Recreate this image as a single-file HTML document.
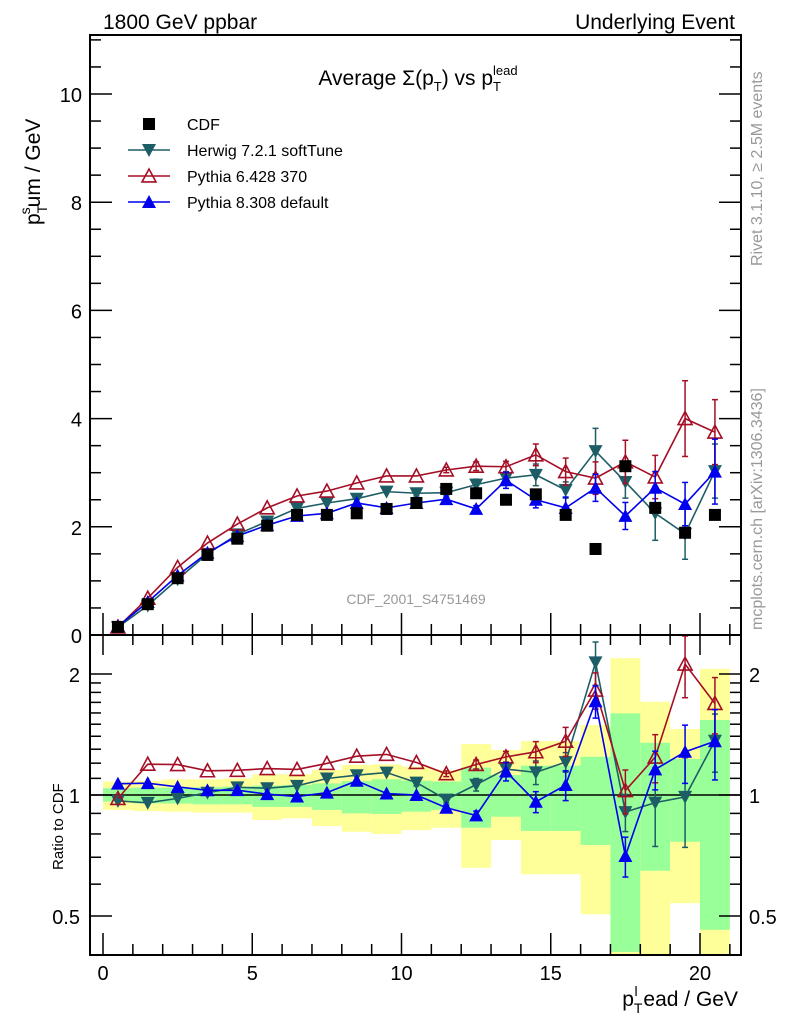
<!DOCTYPE html>
<html><head><meta charset="utf-8"><style>
body{margin:0;background:#fff;}
svg{display:block;font-family:"Liberation Sans",sans-serif;}
</style></head><body>
<svg id="c" width="786" height="1024" viewBox="0 0 786 1024" xmlns="http://www.w3.org/2000/svg">
<text x="103" y="29" font-size="21">1800 GeV ppbar</text>
<text x="735" y="29" font-size="21" text-anchor="end">Underlying Event</text>
<text x="418" y="85" font-size="21" text-anchor="middle">Average Σ(p<tspan font-size="13" dy="6">T</tspan><tspan dy="-6">) vs p</tspan><tspan font-size="13" dy="6">T</tspan><tspan font-size="13" dx="-8" dy="-16">lead</tspan></text>
<text transform="translate(40,225) rotate(-90)" font-size="21">p<tspan font-size="14" dy="7">T</tspan><tspan font-size="14" dx="-8" dy="-17">s</tspan><tspan dy="10">um / GeV</tspan></text>
<text transform="translate(63,870) rotate(-90)" font-size="15">Ratio to CDF</text>
<text transform="translate(762,266) rotate(-90)" font-size="16" fill="#999">Rivet 3.1.10, ≥ 2.5M events</text>
<text transform="translate(762,630) rotate(-90)" font-size="16" fill="#999">mcplots.cern.ch [arXiv:1306.3436]</text>
<text x="416" y="604" font-size="14" fill="#999" text-anchor="middle">CDF_2001_S4751469</text>
<text x="738" y="1006" font-size="21" text-anchor="end">p<tspan font-size="14" dy="7">T</tspan><tspan font-size="14" dx="-8" dy="-17">l</tspan><tspan dy="10"> ead / GeV</tspan></text>
<g id="bands"></g><g id="grid"></g><g id="series"></g><g id="axes"></g><g id="legend"></g>
</svg>
<script>
const xCenters=[0.5,1.5,2.5,3.5,4.5,5.5,6.5,7.5,8.5,9.5,10.5,11.5,12.5,13.5,14.5,15.5,16.5,17.5,18.5,19.5,20.5];
const cdfVals=[0.15,0.57,1.05,1.48,1.78,2.02,2.22,2.22,2.25,2.33,2.44,2.70,2.62,2.50,2.60,2.22,1.59,3.12,2.35,1.89,2.22];
const herwigVals=[0.145,0.545,1.03,1.50,1.86,2.10,2.34,2.44,2.52,2.65,2.62,2.63,2.78,2.90,2.96,2.68,3.40,2.83,2.25,1.87,3.03];
const herwigErr=[0,0,0,0,0,0,0,0,0,0,0.05,0.05,0.1,0.12,0.2,0.15,0.42,0.3,0.5,0.47,0.5];
const py6Vals=[0.147,0.68,1.25,1.70,2.05,2.35,2.57,2.66,2.81,2.94,2.94,3.05,3.12,3.11,3.33,3.02,2.90,3.20,2.92,4.00,3.75];
const py6Err=[0,0,0,0,0,0,0,0,0,0,0,0.05,0.08,0.1,0.2,0.25,0.3,0.4,0.4,0.7,0.6];
const py8Vals=[0.16,0.61,1.10,1.52,1.83,2.03,2.20,2.25,2.44,2.35,2.44,2.51,2.33,2.86,2.50,2.35,2.72,2.20,2.72,2.42,3.02];
const py8Err=[0,0,0,0,0,0,0,0,0,0,0,0.04,0.06,0.15,0.15,0.2,0.25,0.25,0.3,0.4,0.6];
const yellowHi=[1.08,1.085,1.094,1.094,1.10,1.126,1.126,1.154,1.188,1.192,1.176,1.154,1.339,1.294,1.362,1.362,1.493,2.19,1.706,1.459,2.06];
const yellowLo=[0.918,0.912,0.909,0.904,0.904,0.867,0.875,0.837,0.81,0.80,0.818,0.829,0.659,0.773,0.635,0.635,0.505,0.3,0.3,0.538,0.3];
const greenHi=[1.04,1.043,1.043,1.045,1.049,1.055,1.059,1.069,1.083,1.094,1.086,1.08,1.17,1.121,1.183,1.183,1.245,1.596,1.349,1.229,1.537];
const greenLo=[0.963,0.953,0.952,0.948,0.948,0.934,0.934,0.918,0.90,0.897,0.909,0.918,0.829,0.883,0.814,0.814,0.751,0.407,0.648,0.765,0.462];
const mainTicks=[0,2,4,6,8,10];
const xTicks=[0,5,10,15,20];
const ratioTicks=[0.5,1,2];

const NS="http://www.w3.org/2000/svg";
const L=90,R=741,T=35,MB=635,RB=955;
const xs=v=>103+v*29.85;
const ys=v=>635-v*54.1;
const yr=r=>{const c=Math.max(0.38,Math.min(2.55,r));return 795-Math.log2(c)*121;};
function mk(tag,attrs,parent){const e=document.createElementNS(NS,tag);for(const k in attrs)e.setAttribute(k,attrs[k]);parent.appendChild(e);return e;}
const bands=document.getElementById('bands'),grid=document.getElementById('grid'),series=document.getElementById('series'),axes=document.getElementById('axes'),legend=document.getElementById('legend');

xCenters.forEach((x,i)=>{
  const x0=Math.max(L+1,xs(x-0.5)),x1=xs(x+0.5);
  let r=mk('rect',{x:x0,y:yr(yellowHi[i]),width:x1-x0,height:Math.min(RB,yr(yellowLo[i]))-yr(yellowHi[i]),fill:'#ffff99'},bands);
  
  
  let g=mk('rect',{x:x0,y:yr(greenHi[i]),width:x1-x0,height:Math.min(RB,yr(greenLo[i]))-yr(greenHi[i]),fill:'#99ff99'},bands);
  
  
});
mk('line',{x1:L,x2:R,y1:yr(1),y2:yr(1),stroke:'#000','stroke-width':1.5},grid);

let f1=mk('rect',{x:L,y:T,width:R-L,height:MB-T,fill:'none',stroke:'#000','stroke-width':2},axes);


let f2=mk('rect',{x:L,y:MB,width:R-L,height:RB-MB,fill:'none',stroke:'#000','stroke-width':2},axes);


for(let v=0;v<=11;v+=0.5){const y=ys(v);if(y<T)continue;const l=(v%2===0)?22:11;
  mk('line',{x1:L,x2:L+l,y1:y,y2:y,stroke:'#000','stroke-width':1.5},axes);
  mk('line',{x1:R,x2:R-l,y1:y,y2:y,stroke:'#000','stroke-width':1.5},axes);}
mainTicks.forEach(v=>{let t=mk('text',{x:L-8,y:ys(v)+8,'font-size':20,'text-anchor':'end'},axes);t.textContent=v;
  
  });
for(let v=0;v<=21;v++){const x=xs(v);const l=(v%5===0)?22:11;
  [MB,RB].forEach(b=>{mk('line',{x1:x,x2:x,y1:b,y2:b-l,stroke:'#000','stroke-width':1.5},axes);});
  mk('line',{x1:x,x2:x,y1:MB,y2:MB+(v%5===0?20:10),stroke:'#000','stroke-width':1.5},axes);}
xTicks.forEach(v=>{let t=mk('text',{x:xs(v),y:980,'font-size':20,'text-anchor':'middle'},axes);t.textContent=v;
  
  });
[0.4,0.5,0.6,0.7,0.8,0.9,1,1.1,1.2,1.3,1.4,1.5,1.6,1.7,1.8,1.9,2].forEach(v=>{const y=yr(v);const l=(v===0.5||v===1||v===2)?22:11;
  mk('line',{x1:L,x2:L+l,y1:y,y2:y,stroke:'#000','stroke-width':1.5},axes);
  mk('line',{x1:R,x2:R-l,y1:y,y2:y,stroke:'#000','stroke-width':1.5},axes);});
ratioTicks.forEach(v=>{let t=mk('text',{x:L-10,y:yr(v)+8,'font-size':20,'text-anchor':'end'},axes);t.textContent=v;
  
  
  let t2=mk('text',{x:R+8,y:yr(v)+8,'font-size':20},axes);t2.textContent=v;
  
  });

function marker(kind,color,x,y,parent,s){
  if(kind==='square')return mk('rect',{x:x-s,y:y-s,width:2*s,height:2*s,fill:color},parent);
  if(kind==='down')return mk('polygon',{points:`${x-s},${y-s*0.85} ${x+s},${y-s*0.85} ${x},${y+s}`,fill:color},parent);
  if(kind==='up')return mk('polygon',{points:`${x-s},${y+s*0.85} ${x+s},${y+s*0.85} ${x},${y-s}`,fill:color},parent);
  if(kind==='upopen')return mk('polygon',{points:`${x-s},${y+s*0.85} ${x+s},${y+s*0.85} ${x},${y-s}`,fill:'none',stroke:color,'stroke-width':1.6},parent);
}
function drawSeries(name,vals,errs,color,kind){
  const g=mk('g',{},series);
  
  
  const pm=xCenters.map((x,i)=>xs(x)+','+ys(vals[i])).join(' ');
  mk('polyline',{points:pm,fill:'none',stroke:color,'stroke-width':1.6},g);
  const pr=xCenters.map((x,i)=>xs(x)+','+yr(vals[i]/cdfVals[i])).join(' ');
  mk('polyline',{points:pr,fill:'none',stroke:color,'stroke-width':1.6},g);
  xCenters.forEach((x,i)=>{
    const e=errs[i];
    if(e>0){
      const X=xs(x);
      [[ys(vals[i]+e),ys(vals[i]-e)],[yr((vals[i]+e)/cdfVals[i]),yr((vals[i]-e)/cdfVals[i])]].forEach(([a,b])=>{
        mk('line',{x1:X,x2:X,y1:a,y2:b,stroke:color,'stroke-width':1.5},g);
        mk('line',{x1:X-3,x2:X+3,y1:a,y2:a,stroke:color,'stroke-width':1.5},g);
        mk('line',{x1:X-3,x2:X+3,y1:b,y2:b,stroke:color,'stroke-width':1.5},g);});
    }
    let m=marker(kind,color,xs(x),ys(vals[i]),g,7);
    
    
    let m2=marker(kind,color,xs(x),yr(vals[i]/cdfVals[i]),g,7);
    
    
  });
}
drawSeries('herwig',herwigVals,herwigErr,'#1d5e66','down');
drawSeries('pythia6',py6Vals,py6Err,'#a50f26','upopen');
drawSeries('pythia8',py8Vals,py8Err,'#0000ee','up');
xCenters.forEach((x,i)=>{let m=marker('square','#000',xs(x),ys(cdfVals[i]),series,6);
  
  });

const legNames=['CDF','Herwig 7.2.1 softTune','Pythia 6.428 370','Pythia 8.308 default'];
const legKinds=[['square','#000'],['down','#1d5e66'],['upopen','#a50f26'],['up','#0000ee']];
legNames.forEach((n,i)=>{
  const y=124+i*26;
  const g=mk('g',{},legend);
  
  
  if(i>0)mk('line',{x1:128,x2:170,y1:y,y2:y,stroke:legKinds[i][1],'stroke-width':1.6},g);
  marker(legKinds[i][0],legKinds[i][1],149,y,g,i===0?6:7);
  const t=mk('text',{x:187,y:y+6,'font-size':16},g);t.textContent=n;
});
</script>
</body></html>
